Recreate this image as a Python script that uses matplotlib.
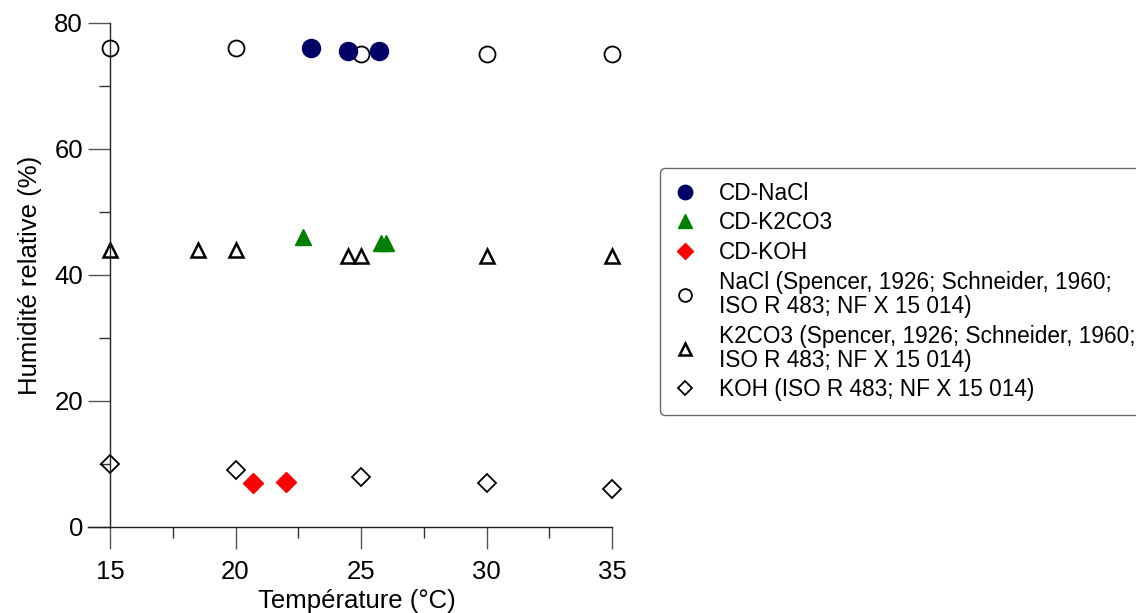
import matplotlib
matplotlib.use("Agg")
import matplotlib.pyplot as plt
from matplotlib.ticker import MultipleLocator

plt.rcParams['font.family'] = ['Liberation Sans', 'DejaVu Sans']

# Data
cd_nacl_x = [23.0, 24.5, 25.7]
cd_nacl_y = [76.0, 75.5, 75.5]
cd_k2co3_x = [22.7, 25.8, 26.0]
cd_k2co3_y = [46.0, 45.0, 45.0]
cd_koh_x = [20.7, 22.0]
cd_koh_y = [7.0, 7.1]
nacl_x = [15, 20, 25, 30, 35]
nacl_y = [76, 76, 75, 75, 75]
k2co3_x = [15, 18.5, 20, 24.5, 25, 30, 35]
k2co3_y = [44, 44, 44, 43, 43, 43, 43]
koh_x = [15, 20, 25, 30, 35]
koh_y = [10, 9, 8, 7, 6]

labels = ["CD-NaCl", "CD-K2CO3", "CD-KOH",
          "NaCl (Spencer, 1926; Schneider, 1960;\nISO R 483; NF X 15 014)",
          "K2CO3 (Spencer, 1926; Schneider, 1960;\nISO R 483; NF X 15 014)",
          "KOH (ISO R 483; NF X 15 014)"]

W, H = 1136, 613
fig = plt.figure(figsize=(W / 100, H / 100), dpi=100)
left_px, right_px = 88, 625
top_px, bot_px = 23, 527
ax = fig.add_axes([left_px / W, 1 - bot_px / H, (right_px - left_px) / W, (bot_px - top_px) / H])

px_per_x = (612 - 110) / 20.0
ax.set_xlim(15 - (110 - left_px) / px_per_x, 15 + (right_px - 110) / px_per_x)
ax.set_ylim(0, 80)

kw = dict(linestyle='none', clip_on=False)
h1, = ax.plot(cd_nacl_x, cd_nacl_y, marker='o', ms=13, color='#000066', mec='#000066', **kw, zorder=3)
h2, = ax.plot(cd_k2co3_x, cd_k2co3_y, marker='^', ms=12, color='#008000', mec='#008000', **kw, zorder=3)
h3, = ax.plot(cd_koh_x, cd_koh_y, marker='D', ms=10, color='#FF0000', mec='#FF0000', **kw, zorder=3)
h4, = ax.plot(nacl_x, nacl_y, marker='o', ms=11.5, mfc='none', mec='black', mew=1.3, **kw, zorder=2)
h5, = ax.plot(k2co3_x, k2co3_y, marker='^', ms=10.5, mfc='none', mec='black', mew=1.8, **kw, zorder=2)
h6, = ax.plot(koh_x, koh_y, marker='D', ms=9.5, mfc='none', mec='black', mew=1.3, **kw, zorder=2)

for s in ['top', 'right']:
    ax.spines[s].set_visible(False)
ax.spines['left'].set_position(('data', 15))
ax.spines['left'].set_bounds(0, 80)
ax.spines['bottom'].set_bounds(ax.get_xlim()[0], 35)
for s in ['left', 'bottom']:
    ax.spines[s].set_color('#222222')
    ax.spines[s].set_linewidth(1.0)

ax.set_xticks([15, 20, 25, 30, 35])
ax.set_xticks([17.5, 22.5, 27.5, 32.5], minor=True)
ax.yaxis.set_major_locator(MultipleLocator(20))
ax.yaxis.set_minor_locator(MultipleLocator(10))
ax.tick_params(axis='both', which='major', length=15.5, width=1.0, color='#555555',
               labelsize=18.5)
ax.tick_params(axis='x', which='major', pad=8)
ax.tick_params(axis='y', which='major', pad=4)
ax.tick_params(axis='both', which='minor', length=8, width=1.0, color='#333333')

ax.set_xlabel("Température (°C)", fontsize=18.5, labelpad=4)
ax.set_ylabel("Humidité relative (%)", fontsize=18.5, labelpad=9)

leg = fig.legend([h1, h2, h3, h4, h5, h6], labels, loc='upper left',
                 bbox_to_anchor=(660 / W, 1 - 168 / H), fontsize=16.3,
                 frameon=True, fancybox=True, edgecolor='#444444',
                 handlelength=1.0, handletextpad=1.0, labelspacing=0.3,
                 borderpad=0.6, borderaxespad=0, markerscale=0.8)
leg.get_frame().set_linewidth(1.0)
for t in leg.get_texts():
    t.set_linespacing(1.05)

fig.savefig("out.png", dpi=100)
